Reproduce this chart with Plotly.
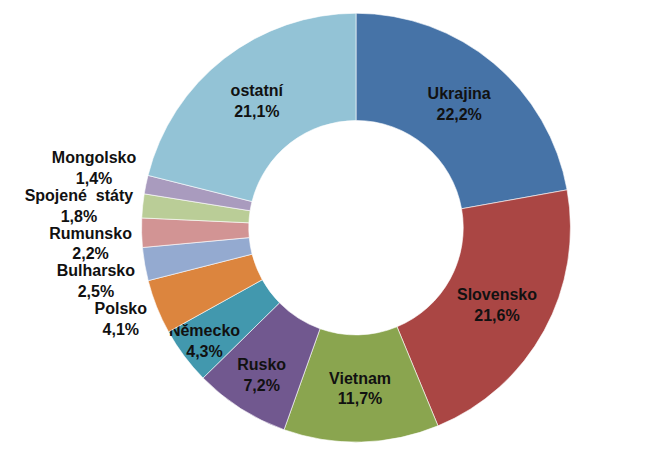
import plotly.graph_objects as go

labels = ["Ukrajina", "Slovensko", "Vietnam", "Rusko", "Německo", "Polsko",
          "Bulharsko", "Rumunsko", "Spojené\u00a0 státy", "Mongolsko", "ostatní"]
values = [22.2, 21.6, 11.7, 7.2, 4.3, 4.1, 2.5, 2.2, 1.8, 1.4, 21.1]
colors = ["#4673A7", "#AA4644", "#8AA54F", "#71588F", "#4298AE", "#DC853E",
          "#94AAD0", "#D29494", "#BACD97", "#A99BBE", "#93C3D6"]
positions = ["inside", "inside", "inside", "inside", "inside", "outside",
             "outside", "outside", "outside", "outside", "inside"]

texts = [f"{l}<br>{v:.1f}%".replace(".", ",") for l, v in zip(labels, values)]

fig = go.Figure(go.Pie(
    labels=labels,
    values=values,
    text=texts,
    textinfo="text",
    textposition=positions,
    insidetextorientation="horizontal",
    sort=False,
    direction="clockwise",
    rotation=0,
    hole=0.5,
    marker=dict(colors=colors, line=dict(color="white", width=0.6)),
    textfont=dict(family="Liberation Sans", size=16, color="#111111"),
    domain=dict(x=[0.204, 0.8635], y=[0.0626, 0.993]),
    showlegend=False,
))
fig.update_traces(texttemplate="<b>%{text}</b>")
fig.update_layout(
    width=652, height=463,
    margin=dict(l=0, r=0, t=0, b=0),
    paper_bgcolor="white",
    plot_bgcolor="white",
    uniformtext=dict(minsize=16, mode="show"),
)
fig.write_html(
    "out.html",
    post_script="document.querySelectorAll('path.textline').forEach(function(e){e.style.display='none';});",
)
